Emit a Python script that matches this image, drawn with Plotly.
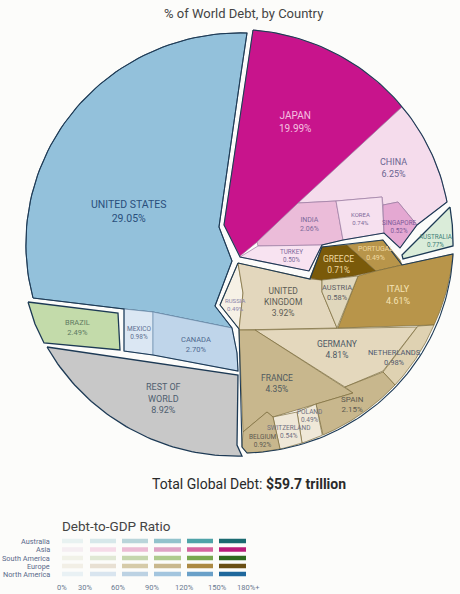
import math
import plotly.graph_objects as go

# ---- data ----
countries = ["UNITED STATES", "MEXICO", "CANADA", "BRAZIL", "REST OF WORLD", "JAPAN", "CHINA", "INDIA",
             "KOREA", "SINGAPORE", "TURKEY", "AUSTRALIA", "RUSSIA", "UNITED KINGDOM", "GREECE", "PORTUGAL",
             "ITALY", "AUSTRIA", "GERMANY", "NETHERLANDS", "FRANCE", "SPAIN", "POLAND", "SWITZERLAND", "BELGIUM"]
shares = [29.05, 0.98, 2.70, 2.49, 8.92, 19.99, 6.25, 2.06, 0.74, 0.52, 0.50, 0.77, 0.49, 3.92, 0.71, 0.49,
          4.61, 0.58, 4.81, 0.98, 4.35, 2.15, 0.49, 0.54, 0.92]
legend_regions = ["Australia", "Asia", "South America", "Europe", "North America"]
ratio_ticks = ["0%", "30%", "60%", "90%", "120%", "150%", "180%+"]

ARC = "arc"  # the next edge follows the round rim of the chart

# outlines of the cells
us_cell = [(33, 298), ARC, (247, 33), (240, 80), (219, 227), (232, 261), (215, 306), (232, 328), (153, 312), (124, 309)]
mexico_cell = [(124, 309), (153, 312), (153, 355), (124, 351)]
canada_cell = [(153, 312), (232, 328), (237, 353), (238, 371), (153, 355)]
brazil_cell = [(28, 302), (118, 313), (120, 350), (44, 343), (35, 324)]
row_cell = [(47, 347), (238, 375), (237, 445), (242, 456), ARC, (47, 347)]
japan_cell = [(253, 30), ARC, (402, 107), (257, 242), (240, 256), (224, 225)]
china_cell = [(402, 107), ARC, (447, 202), (417, 225), (398, 202), (383, 205), (382, 197), (336, 201), (298, 203)]
india_cell = [(298, 203), (336, 201), (343, 240), (322, 245), (258, 246), (257, 242)]
korea_cell = [(336, 201), (382, 197), (384, 233), (343, 240)]
singapore_cell = [(383, 205), (398, 202), (417, 225), (400, 248), (384, 233)]
turkey_cell = [(240, 257), (258, 246), (322, 245), (309, 271)]
australia_cell = [(450, 207), ARC, (453, 246), (403, 259), (402, 255)]
russia_cell = [(238, 263), (243, 293), (239, 329), (220, 305)]
uk_cell = [(238, 263), (310, 279), (322, 280), (322, 292), (337, 328), (239, 330), (243, 293)]
greece_cell = [(310, 278), (322, 247), (347, 245), (376, 271), (353, 276), (322, 280)]
portugal_cell = [(347, 245), (383, 240), (400, 260), (402, 265), (376, 271)]
italy_cell = [(358, 276), (376, 271), (402, 265), (453, 254), ARC, (434, 325), (338, 328)]
austria_cell = [(322, 280), (358, 276), (337, 328), (322, 292)]
germany_cell = [(255, 330), (417, 327), (383, 371), (345, 387)]
netherlands_cell = [(418, 326), (434, 325), ARC, (395, 385), (383, 372)]
france_cell = [(239, 330), (255, 330), (353, 393), (273, 417), (267, 412), (243, 432)]
spain_cell = [(345, 387), (383, 372), (395, 385), ARC, (323, 435), (316, 404), (353, 393)]
poland_cell = [(316, 404), (323, 435), ARC, (302, 443), (297, 412)]
switzerland_cell = [(273, 417), (297, 412), (302, 443), ARC, (280, 449)]
belgium_cell = [(267, 412), (273, 417), (280, 449), ARC, (247, 453), (242, 447), (243, 432)]

north_america_rim = [(33, 298), ARC, (247, 33), (240, 80), (219, 227), (232, 261), (215, 306), (232, 328), (237, 353),
                     (238, 371), (153, 355), (124, 351), (124, 309)]
asia_rim = [(253, 30), ARC, (447, 202), (417, 225), (400, 248), (384, 233), (343, 240), (322, 245), (309, 271),
            (240, 257), (224, 225)]
europe_rim = [(238, 263), (310, 279), (322, 247), (383, 240), (402, 265), (453, 254), ARC, (247, 453), (242, 447),
              (239, 329), (220, 305)]

cells = [us_cell, mexico_cell, canada_cell, brazil_cell, row_cell, japan_cell, china_cell, india_cell, korea_cell,
         singapore_cell, turkey_cell, australia_cell, russia_cell, uk_cell, greece_cell, portugal_cell, italy_cell,
         austria_cell, germany_cell, netherlands_cell, france_cell, spain_cell, poland_cell, switzerland_cell,
         belgium_cell]
fills = ["#93c1db", "#dbe7f3", "#bfd5ea", "#c3dbaa", "#c8c8c8", "#c8148c", "#f5dcec", "#ebbcd9", "#f6e0ef", "#e4a8d2",
         "#f8e3f1", "#daecd9", "#f6f1e6", "#e3d7bd", "#7a5a0a", "#b8954a", "#b8954a", "#e0d7bc", "#e4d8bd", "#dfd2b2",
         "#c8b78d", "#c8b78d", "#efe8d8", "#efe8d8", "#c8b78d"]
seams = ["#1d3a55", "#6f8fb0", "#6f8fb0", "#1d3a55", "#1d3a55", "#a0608c", "#9a7aa0", "#9a7aa0", "#9a7aa0", "#9a7aa0",
         "#9a7aa0", "#1d3a55", "#7a6a3a", "#7a6a3a", "#6a4f14", "#7a6a3a", "#7a6a3a", "#7a6a3a", "#7a6a3a", "#7a6a3a",
         "#7a6a3a", "#7a6a3a", "#7a6a3a", "#7a6a3a", "#7a6a3a"]
dark_rim = [False, False, False, True, True, False, False, False, False, False, False, True] + [False] * 13

label_spots = [(128, 211), (139, 333), (196, 344), (77, 327), (163, 398), (295, 122), (393, 168), (309, 224), (360, 218),
               (399, 227), (291, 256), (436, 241), (235, 304), (283, 302), (338, 264), (375, 253), (398, 295), (337, 292),
               (337, 349), (394, 357), (277, 383), (352, 404), (309, 416), (288, 432), (262, 441)]
label_sizes = [10.5, 6.5, 7.5, 7.5, 9, 10, 9, 7, 6, 6.3, 6.3, 6.3, 6, 8.5, 8.5, 7, 9, 7.5, 8.5, 7.5, 8.5, 8, 6.5, 6.5, 6.5]
label_inks = ["#2a4f7c", "#5d6f92", "#4f6a90", "#5f7a62", "#4f5f70", "#f5c0e0", "#6a6490", "#7d6a9a", "#7d6a9a", "#7d5a98",
              "#7d6a9a", "#3f7f78", "#8a84a8", "#5d5d55", "#f0d9a0", "#f0d9a0", "#f5e3b5", "#5d6065", "#4f5a66", "#4f5a70",
              "#4f5a60", "#5d5a50", "#6f7080", "#6f7080", "#5d5a50"]

legend_colors = [
    ["#e8f2f1", "#d7e8ea", "#b9d5da", "#93c3cc", "#4fa3a8", "#1a6a70"],
    ["#f5eef2", "#f6dbe8", "#ecbbd4", "#dfa3c5", "#d6649f", "#b91c7a"],
    ["#f1f2e8", "#e0e8d4", "#c5d6ad", "#aecb8e", "#78a850", "#2f6a1e"],
    ["#f2efe6", "#e8e0d3", "#d6cba9", "#c9b88e", "#ac8a44", "#6a4f14"],
    ["#e9f1f4", "#d9e5ef", "#bcd2e3", "#a3c5de", "#6aa0c8", "#1f689c"],
]
legend_spans = [(62, 83), (90, 116), (122, 148), (154, 181), (187, 213), (219, 246)]
legend_rows = [541, 549.5, 558, 566, 574]
tick_spots = [62, 85, 118, 152, 184, 217, 248]

FONT = "Roboto"
CX, CY, RX, RY = 240.0, 244.0, 215.0, 212.0


def walk(cell):
    """Expand an outline, bending ARC edges around the rim of the chart."""
    xs, ys = [], []
    pts = list(cell)
    for i, p in enumerate(pts):
        if p == ARC:
            a, b = pts[i - 1], pts[(i + 1) % len(pts)]
            ua, va = (a[0] - CX) / RX, (a[1] - CY) / RY
            ub, vb = (b[0] - CX) / RX, (b[1] - CY) / RY
            ta, tb = math.atan2(va, ua), math.atan2(vb, ub)
            d = (tb - ta + math.pi) % (2 * math.pi) - math.pi
            ra, rb = math.hypot(ua, va), math.hypot(ub, vb)
            for k in range(1, 60):
                f = k / 60
                t, r = ta + d * f, ra + (rb - ra) * f
                xs.append(CX + RX * r * math.cos(t))
                ys.append(CY + RY * r * math.sin(t))
        else:
            xs.append(p[0])
            ys.append(p[1])
    xs.append(xs[0])
    ys.append(ys[0])
    return xs, ys


fig = go.Figure()
for name, cell, fill, seam, rim in zip(countries, cells, fills, seams, dark_rim):
    xs, ys = walk(cell)
    fig.add_trace(go.Scatter(x=xs, y=ys, mode="lines", fill="toself", fillcolor=fill, name=name,
                             line=dict(color=seam, width=1.3 if rim else 0.7), hoverinfo="name"))
for rim in (north_america_rim, asia_rim, europe_rim):
    xs, ys = walk(rim)
    fig.add_trace(go.Scatter(x=xs, y=ys, mode="lines", line=dict(color="#1d3a55", width=1.1), hoverinfo="skip"))

for row, region in enumerate(legend_regions):
    for col, (x0, x1) in enumerate(legend_spans):
        fig.add_trace(go.Scatter(x=[x0, x1], y=[legend_rows[row]] * 2, mode="lines", hoverinfo="skip",
                                 line=dict(color=legend_colors[row][col], width=4.5)))

anns = []
def note(x, y, text, size, color, anchor="center"):
    anns.append(dict(x=x, y=y, text=text, showarrow=False, xanchor=anchor, yanchor="middle",
                     font=dict(family=FONT, size=size, color=color), align="center"))

BREAKS = {"UNITED KINGDOM": "UNITED<br>KINGDOM", "REST OF WORLD": "REST OF<br>WORLD"}
for name, share, spot, size, ink in zip(countries, shares, label_spots, label_sizes, label_inks):
    note(spot[0], spot[1], f"{BREAKS.get(name, name)}<br>{share:.2f}%", size, ink)

note(243, 13, "% of World Debt, by Country", 13, "#444444")
note(249, 484, "Total Global Debt: <b>$59.7 trillion</b>", 14, "#2a2a2a")
note(60, 526, "Debt-to-GDP Ratio", 13.5, "#444444", "left")
for row, region in enumerate(legend_regions):
    note(52, legend_rows[row], region, 7.3, "#5a6a8a", "right")
for x, tick in zip(tick_spots, ratio_ticks):
    note(x, 587, tick, 7.5, "#6a7a90")

fig.update_layout(width=460, height=594, margin=dict(l=0, r=0, t=0, b=0), showlegend=False,
                  paper_bgcolor="#fcfcfa", plot_bgcolor="#fcfcfa", annotations=anns,
                  xaxis=dict(range=[0, 460], visible=False, fixedrange=True),
                  yaxis=dict(range=[594, 0], visible=False, fixedrange=True))
fig.write_html("out.html", config={"displayModeBar": False},
               post_script="document.body.style.margin='0';document.body.style.background='#fcfcfa';")
